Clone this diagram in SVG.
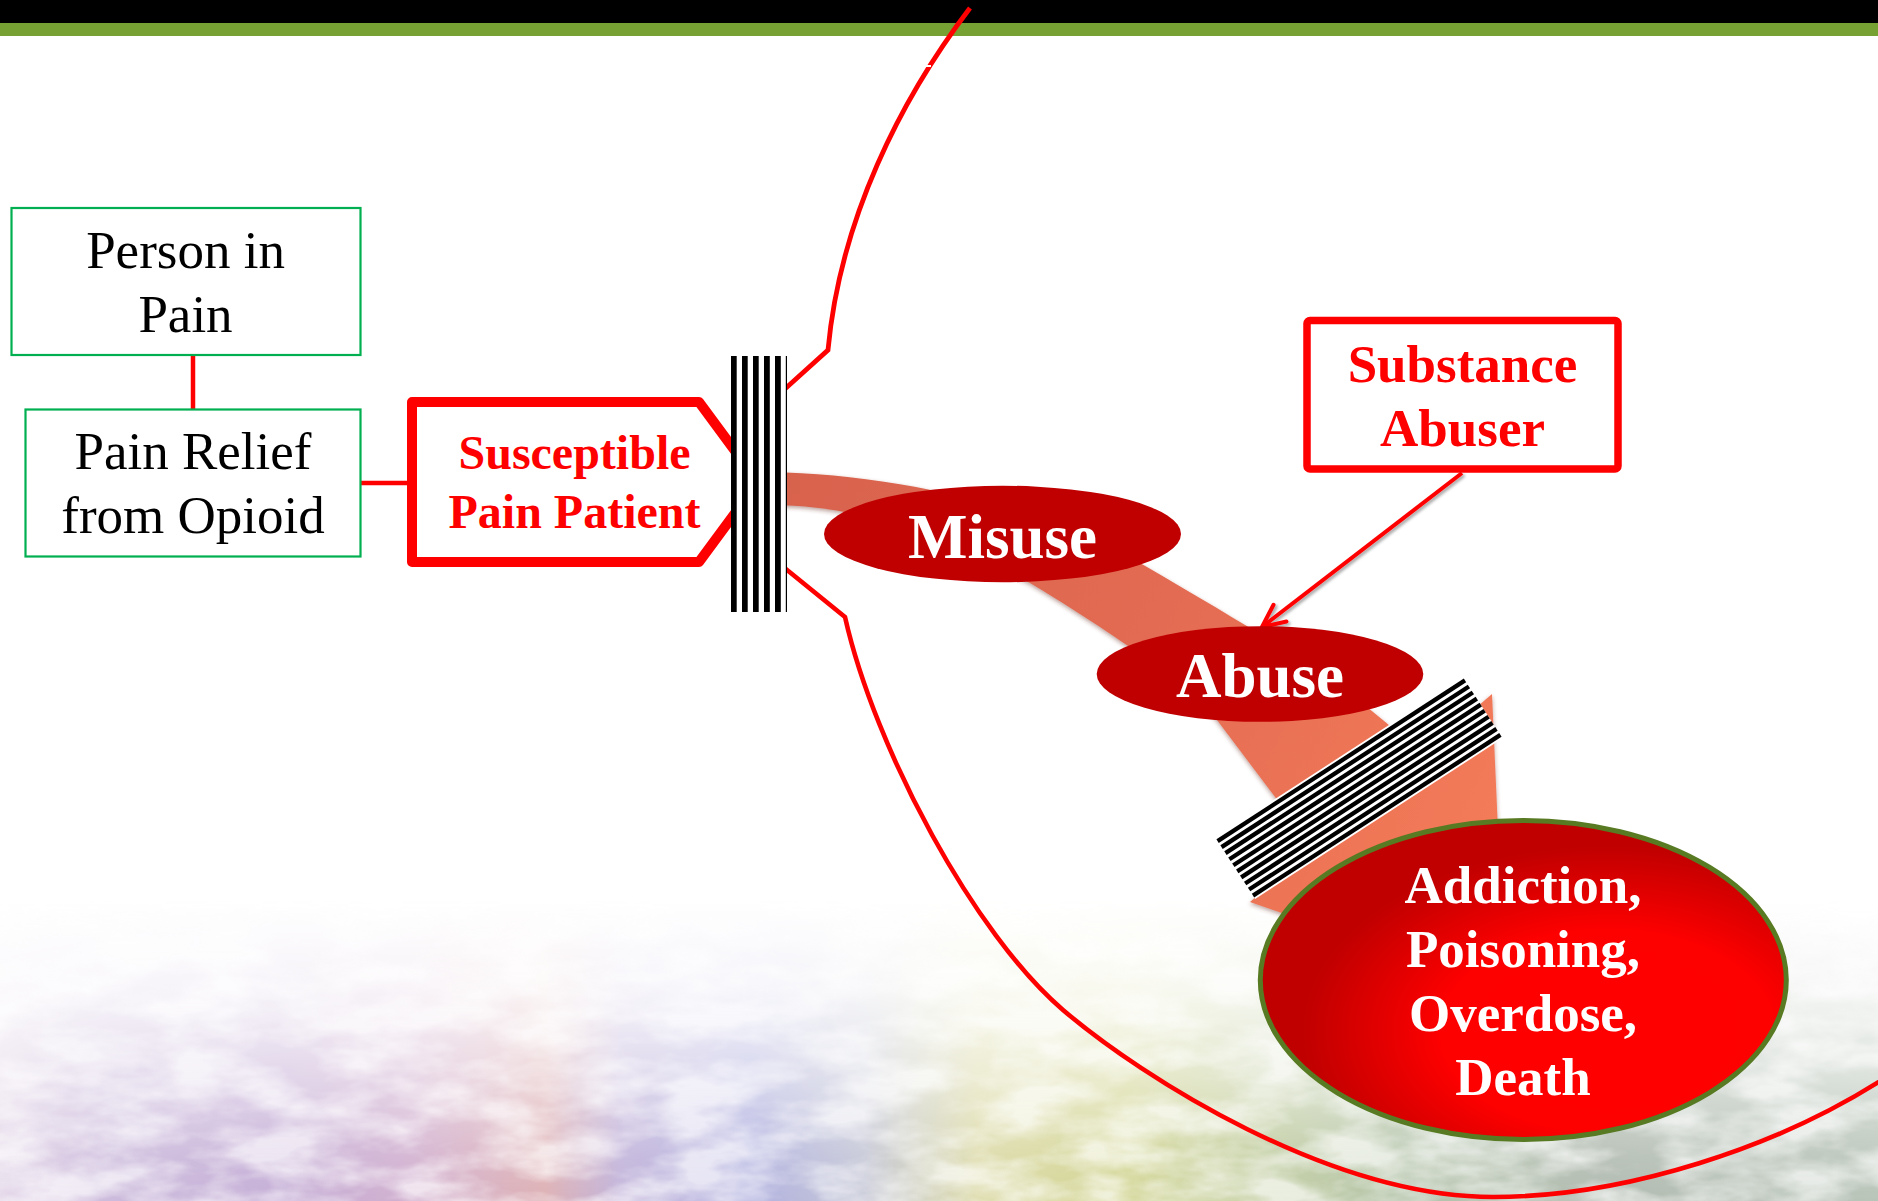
<svg xmlns="http://www.w3.org/2000/svg" width="1878" height="1201" viewBox="0 0 1878 1201">
<defs>
<style>
.serif{font-family:"Liberation Serif","Times New Roman",serif}
.lbl{font-size:53px;fill:#000;text-anchor:middle}
.redt{font-weight:bold;fill:#ff0000;text-anchor:middle}
.wht{font-weight:bold;fill:#ffffff;text-anchor:middle}
.gbox{fill:#ffffff;stroke:#00b050;stroke-width:2.2}
.conn{stroke:#ff0000;fill:none}
.bar{fill:#000000}
.sl{stroke:#000000;stroke-width:4.3}
</style>
<linearGradient id="wc" x1="0" y1="0" x2="1878" y2="0" gradientUnits="userSpaceOnUse">
<stop offset="0" stop-color="#e0d2e6"/>
<stop offset="0.06" stop-color="#c9b7da"/>
<stop offset="0.15" stop-color="#c2aad4"/>
<stop offset="0.22" stop-color="#cfaccd"/>
<stop offset="0.29" stop-color="#dcaeb2"/>
<stop offset="0.33" stop-color="#bfb0d8"/>
<stop offset="0.40" stop-color="#aeaede"/>
<stop offset="0.46" stop-color="#c2c4d4"/>
<stop offset="0.52" stop-color="#dad8a4"/>
<stop offset="0.60" stop-color="#cfd28c"/>
<stop offset="0.67" stop-color="#bfcb9c"/>
<stop offset="0.75" stop-color="#b2c2a8"/>
<stop offset="0.85" stop-color="#aeb8ad"/>
<stop offset="1" stop-color="#b6c2b6"/>
</linearGradient>
<linearGradient id="fade" x1="0" y1="900" x2="0" y2="1201" gradientUnits="userSpaceOnUse">
<stop offset="0" stop-color="#ffffff" stop-opacity="0"/>
<stop offset="0.3" stop-color="#ffffff" stop-opacity="0.15"/>
<stop offset="0.6" stop-color="#ffffff" stop-opacity="0.5"/>
<stop offset="0.85" stop-color="#ffffff" stop-opacity="0.85"/>
<stop offset="1" stop-color="#ffffff" stop-opacity="0.95"/>
</linearGradient>
<mask id="wcmask" maskUnits="userSpaceOnUse" x="0" y="0" width="1878" height="1201">
<rect x="0" y="900" width="1878" height="301" fill="url(#fade)"/>
</mask>
<filter id="tex" filterUnits="userSpaceOnUse" x="0" y="880" width="1878" height="321">
<feTurbulence type="fractalNoise" baseFrequency="0.012 0.03" numOctaves="4" seed="7" result="n"/>
<feColorMatrix in="n" type="matrix" values="0 0 0 0 0  0 0 0 0 0  0 0 0 0 0  0 0 0 2.6 -0.75" result="a"/>
<feComposite in="SourceGraphic" in2="a" operator="in"/>
</filter>
<linearGradient id="rib" x1="787" y1="480" x2="1500" y2="820" gradientUnits="userSpaceOnUse">
<stop offset="0" stop-color="#d8634e"/>
<stop offset="0.5" stop-color="#e36b52"/>
<stop offset="1" stop-color="#f47b59"/>
</linearGradient>
<radialGradient id="add" cx="0.66" cy="0.66" r="0.58">
<stop offset="0" stop-color="#ff0000"/>
<stop offset="0.55" stop-color="#fd0000"/>
<stop offset="1" stop-color="#c00000"/>
</radialGradient>
<filter id="sh" x="-10%" y="-10%" width="120%" height="120%">
<feDropShadow dx="0" dy="2" stdDeviation="2" flood-color="#6a2a20" flood-opacity="0.45"/>
</filter>
<filter id="lsh" x="-10%" y="-10%" width="120%" height="120%">
<feDropShadow dx="2" dy="2" stdDeviation="1.5" flood-color="#000000" flood-opacity="0.35"/>
</filter>
<marker id="arr" markerUnits="userSpaceOnUse" viewBox="-28 -16 32 32" refX="0" refY="0" markerWidth="32" markerHeight="32" orient="auto">
<path d="M-22.7,-10.6 L0,0 L-22.7,10.6" fill="none" stroke="#ff0000" stroke-width="4" stroke-linecap="round" stroke-linejoin="round"/>
</marker>
</defs>

<rect x="0" y="0" width="1878" height="1201" fill="#ffffff"/>
<g id="background">
<g mask="url(#wcmask)">
<rect x="0" y="880" width="1878" height="321" fill="url(#wc)" filter="url(#tex)"/>
<rect x="0" y="880" width="1878" height="321" fill="url(#wc)" opacity="0.35"/>
</g>
<rect x="0" y="0" width="1878" height="23" fill="#000000"/>
<rect x="0" y="23" width="1878" height="13" fill="#78a134"/>
</g>

<g id="boundary">
<path d="M970,8 C900,100 840,220 828,350 L776,397" class="conn" stroke-width="4.8"/>
<path d="M776,561 L845,617 C875,750 975,935 1063,1010 C1143,1078 1330,1197 1493,1197 C1620,1197 1780,1150 1900,1068" class="conn" stroke-width="4.6"/>
<line x1="917" y1="66" x2="931" y2="66" stroke="#ffffff" stroke-width="2"/>
</g>

<g id="pathway" filter="url(#sh)">
<path d="M770,472 C900,474 1050,510 1147,567 C1250,627 1340,680 1400,735 L1300,830 L1217,720 C1190,685 1100,625 1030,583 C960,550 880,505 770,505 Z" fill="url(#rib)"/>
<path d="M1250,902 L1492,694 L1505,990 Z" fill="url(#rib)"/>
</g>

<g id="connectors">
<line x1="193" y1="356" x2="193" y2="409" class="conn" stroke-width="4.5"/>
<line x1="361" y1="483" x2="408" y2="483" class="conn" stroke-width="4.5"/>
<line x1="1462" y1="473" x2="1262" y2="627" class="conn" stroke-width="4" filter="url(#lsh)" marker-end="url(#arr)"/>
</g>

<g id="person-in-pain">
<rect x="11.5" y="208" width="349" height="147" class="gbox"/>
<text class="serif lbl" x="185.5" y="268">Person in</text>
<text class="serif lbl" x="185.5" y="332">Pain</text>
</g>

<g id="pain-relief">
<rect x="25.5" y="409.5" width="335" height="147" class="gbox"/>
<text class="serif lbl" x="193" y="469">Pain Relief</text>
<text class="serif lbl" x="193" y="533">from Opioid</text>
</g>

<g id="susceptible">
<path d="M412,402 L699,402 L758,482 L699,562 L412,562 Z" fill="#ffffff" stroke="#ff0000" stroke-width="10" stroke-linejoin="round"/>
<text class="serif redt" font-size="48" x="574.5" y="469">Susceptible</text>
<text class="serif redt" font-size="48" x="574.5" y="528">Pain Patient</text>
</g>

<g id="barrier-1">
<rect x="731" y="356" width="56" height="256" fill="#ffffff"/>
<rect x="731" y="356" width="5.7" height="256" class="bar"/>
<rect x="742" y="356" width="5.7" height="256" class="bar"/>
<rect x="753" y="356" width="5.7" height="256" class="bar"/>
<rect x="764" y="356" width="5.8" height="256" class="bar"/>
<rect x="775" y="356" width="5.8" height="256" class="bar"/>
<rect x="785.8" y="356" width="1.2" height="256" class="bar"/>
</g>

<g id="misuse">
<ellipse cx="1002.5" cy="534" rx="178.5" ry="48.3" fill="#c00000"/>
<text class="serif wht" font-size="63" x="1002.5" y="558">Misuse</text>
</g>

<g id="abuse">
<ellipse cx="1260" cy="674" rx="163.3" ry="47.8" fill="#c00000"/>
<text class="serif wht" font-size="63" x="1260" y="697">Abuse</text>
</g>

<g id="substance-abuser">
<rect x="1307" y="320.5" width="311" height="148.5" rx="3" fill="#ffffff" stroke="#ff0000" stroke-width="7.5"/>
<text class="serif redt" font-size="53" x="1462.5" y="381.7">Substance</text>
<text class="serif redt" font-size="53" x="1462.5" y="445.7">Abuser</text>
</g>

<g id="barrier-2" transform="translate(1359,788) rotate(-33)">
<rect x="-147.5" y="-36.5" width="295" height="73" fill="#ffffff"/>
<line x1="-147.5" y1="-32.5" x2="147.5" y2="-32.5" class="sl"/>
<line x1="-147.5" y1="-25.3" x2="147.5" y2="-25.3" class="sl"/>
<line x1="-147.5" y1="-18.1" x2="147.5" y2="-18.1" class="sl"/>
<line x1="-147.5" y1="-10.8" x2="147.5" y2="-10.8" class="sl"/>
<line x1="-147.5" y1="-3.6" x2="147.5" y2="-3.6" class="sl"/>
<line x1="-147.5" y1="3.6" x2="147.5" y2="3.6" class="sl"/>
<line x1="-147.5" y1="10.8" x2="147.5" y2="10.8" class="sl"/>
<line x1="-147.5" y1="18.1" x2="147.5" y2="18.1" class="sl"/>
<line x1="-147.5" y1="25.3" x2="147.5" y2="25.3" class="sl"/>
<line x1="-147.5" y1="32.5" x2="147.5" y2="32.5" class="sl"/>
</g>

<g id="addiction">
<ellipse cx="1523.3" cy="980" rx="263" ry="159.5" fill="url(#add)" stroke="#577a22" stroke-width="5"/>
<text class="serif wht" font-size="53" x="1523" y="903">Addiction,</text>
<text class="serif wht" font-size="53" x="1523" y="967">Poisoning,</text>
<text class="serif wht" font-size="53" x="1523" y="1031">Overdose,</text>
<text class="serif wht" font-size="53" x="1523" y="1095">Death</text>
</g>
</svg>
